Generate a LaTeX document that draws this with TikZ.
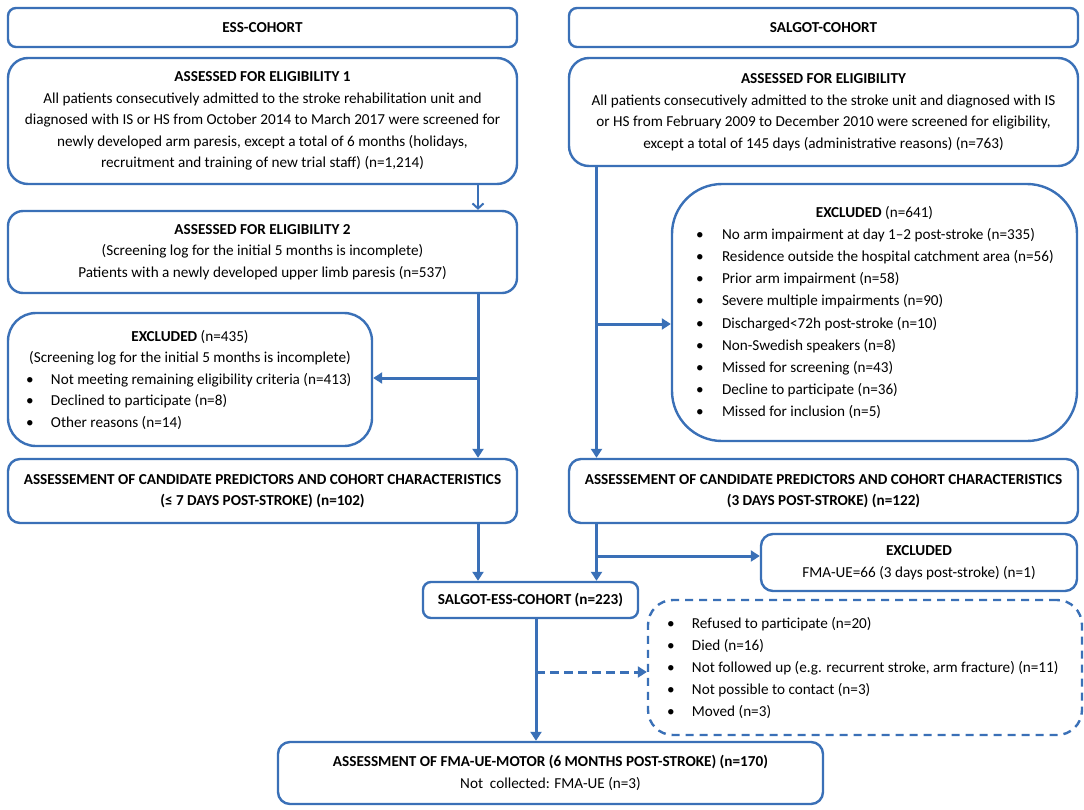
\documentclass[tikz,border=0pt]{standalone}
\usepackage{fontspec}
\setmainfont{Carlito}
\usetikzlibrary{arrows.meta}
\definecolor{bc}{RGB}{58,112,183}
\newcommand{\fs}{\fontsize{15.2}{21.5}\selectfont}
\newcommand{\ctrline}[2]{\makebox[#1pt][c]{#2}}
\newcommand{\bulline}[4]{\makebox[#1pt][l]{\hspace*{#2pt}\makebox[0pt]{\textbullet}\hspace*{#3pt}#4}}
\tikzset{
  box/.style={draw=bc, line width=2.4pt, rounded corners=#1, inner sep=0pt, align=center, font=\fs, fill=white},
  dbox/.style={box=#1, dash pattern=on 8pt off 6pt},
  conn/.style={draw=bc, line width=3pt, -{Triangle[length=9pt,width=11pt]}},
  thinconn/.style={draw=bc, line width=2pt, -{Straight Barb[length=5pt,width=11pt]}},
  dconn/.style={conn, dash pattern=on 9pt off 5pt}
}
\begin{document}
\begin{tikzpicture}[x=1pt,y=-1pt]
\fill[white] (0,0) rectangle (1084,809);
\useasboundingbox (0,0) rectangle (1084,809);

\node[box=8pt, minimum width=509pt, minimum height=39pt] (essH) at (262.5,27.5) {\textbf{ESS-COHORT}};
\node[box=8pt, minimum width=509pt, minimum height=39pt] (salH) at (823.5,27.5) {\textbf{SALGOT-COHORT}};

\node[box=20pt, minimum width=509pt, minimum height=126pt] (A1) at (262.5,121) {\textbf{ASSESSED FOR ELIGIBILITY 1}\\
All patients consecutively admitted to the stroke rehabilitation unit and\\
diagnosed with IS or HS from October 2014 to March 2017 were screened for\\
newly developed arm paresis, except a total of 6 months (holidays,\\
recruitment and training of new trial staff) (n=1,214)};

\node[box=20pt, minimum width=509pt, minimum height=108pt] (SA) at (823.5,112) {\textbf{ASSESSED FOR ELIGIBILITY}\\
All patients consecutively admitted to the stroke unit and diagnosed with IS\\
or HS from February 2009 to December 2010 were screened for eligibility,\\
except a total of 145 days (administrative reasons) (n=763)};

\node[box=15pt, minimum width=509pt, minimum height=82pt] (A2) at (262.5,252) {\textbf{ASSESSED FOR ELIGIBILITY 2}\\
(Screening log for the initial 5 months is incomplete)\\
Patients with a newly developed upper limb paresis (n=537)};

\node[box=28pt, minimum width=364pt, minimum height=133pt] (X435) at (190,379.5) {\ctrline{364}{\textbf{EXCLUDED} (n=435)}\\
\ctrline{364}{(Screening log for the initial 5 months is incomplete)}\\
\bulline{364}{22}{21}{Not meeting remaining eligibility criteria (n=413)}\\
\bulline{364}{22}{21}{Declined to participate (n=8)}\\
\bulline{364}{22}{21}{Other reasons (n=14)}};

\node[box=50pt, minimum width=405pt, minimum height=257pt, font=\fontsize{15.2}{22.1}\selectfont] (X641) at (874.5,312.5) {\ctrline{405}{\textbf{EXCLUDED} (n=641)}\\
\bulline{405}{28}{22}{No arm impairment at day 1\textendash 2 post-stroke (n=335)}\\
\bulline{405}{28}{22}{Residence outside the hospital catchment area (n=56)}\\
\bulline{405}{28}{22}{Prior arm impairment (n=58)}\\
\bulline{405}{28}{22}{Severe multiple impairments (n=90)}\\
\bulline{405}{28}{22}{Discharged<72h post-stroke (n=10)}\\
\bulline{405}{28}{22}{Non-Swedish speakers (n=8)}\\
\bulline{405}{28}{22}{Missed for screening (n=43)}\\
\bulline{405}{28}{22}{Decline to participate (n=36)}\\
\bulline{405}{28}{22}{Missed for inclusion (n=5)}};

\node[box=12pt, minimum width=509pt, minimum height=64pt] (EP) at (262.5,491) {\textbf{ASSESSEMENT OF CANDIDATE PREDICTORS AND COHORT CHARACTERISTICS}\\
\textbf{(≤ 7 DAYS POST-STROKE) (n=102)}};

\node[box=12pt, minimum width=509pt, minimum height=64pt] (SP) at (823.5,491) {\textbf{ASSESSEMENT OF CANDIDATE PREDICTORS AND COHORT CHARACTERISTICS}\\
\textbf{(3 DAYS POST-STROKE) (n=122)}};

\node[box=8pt, minimum width=215pt, minimum height=36pt] (SE) at (530.5,600) {\textbf{SALGOT-ESS-COHORT (n=223)}};

\node[box=12pt, minimum width=316pt, minimum height=57pt, font=\fontsize{15.2}{22}\selectfont] (XS) at (919,562.5) {\textbf{EXCLUDED}\\
FMA-UE=66 (3 days post-stroke) (n=1)};

\node[dbox=25pt, minimum width=434pt, minimum height=135pt, font=\fontsize{15.2}{22}\selectfont] (DB) at (865,667.5) {\bulline{434}{23}{21}{Refused to participate (n=20)}\\
\bulline{434}{23}{21}{Died (n=16)}\\
\bulline{434}{23}{21}{Not followed up (e.g. recurrent stroke, arm fracture) (n=11)}\\
\bulline{434}{23}{21}{Not possible to contact (n=3)}\\
\bulline{434}{23}{21}{Moved (n=3)}};

\node[box=12pt, minimum width=545pt, minimum height=62pt] (FB) at (550.5,773) {\textbf{ASSESSMENT OF FMA-UE-MOTOR (6 MONTHS POST-STROKE) (n=170)}\\
Not\ \ collected: FMA-UE (n=3)};

\coordinate (essx) at (478,0);
\coordinate (salx) at (596.5,0);
\coordinate (sex) at (536,0);
\coordinate (b0) at (478,378);
\coordinate (b1) at (596.5,324);
\coordinate (b2) at (596.5,556);
\coordinate (b3) at (536,672);

\draw[thinconn] (essx |- A1.south) -- (essx |- A2.north);
\draw[conn] (essx |- A2.south) -- (essx |- EP.north);
\draw[conn] (b0) -- (b0 -| X435.east);
\draw[conn] (salx |- SA.south) -- (salx |- SP.north);
\draw[conn] (b1) -- (b1 -| X641.west);
\draw[conn] (essx |- EP.south) -- (essx |- SE.north);
\draw[conn] (salx |- SP.south) -- (salx |- SE.north);
\draw[conn] (b2) -- (b2 -| XS.west);
\draw[conn] (sex |- SE.south) -- (sex |- FB.north);
\draw[dconn] (b3) -- (b3 -| DB.west);
\end{tikzpicture}
\end{document}
